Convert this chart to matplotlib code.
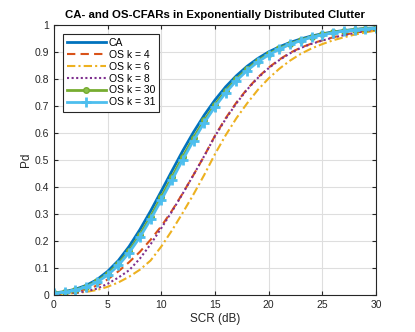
import matplotlib
matplotlib.use("Agg")
import matplotlib.pyplot as plt
import numpy as np

plt.rcParams['font.family'] = ['Liberation Sans', 'DejaVu Sans']

# SCR axis (dB), one point per dB
scr_db = np.arange(0, 31)

# Pd values
pd_ca = [0.008, 0.013, 0.022, 0.036, 0.057, 0.088, 0.128, 0.180, 0.242, 0.311,
         0.385, 0.460, 0.534, 0.603, 0.666, 0.722, 0.771, 0.812, 0.847, 0.876,
         0.900, 0.919, 0.935, 0.948, 0.959, 0.967, 0.974, 0.979, 0.983, 0.987, 0.989]
pd_os4 = [0.006, 0.009, 0.014, 0.022, 0.035, 0.058, 0.088, 0.122, 0.160, 0.205,
          0.255, 0.313, 0.377, 0.445, 0.515, 0.590, 0.655, 0.713, 0.763, 0.806,
          0.842, 0.872, 0.897, 0.916, 0.931, 0.943, 0.954, 0.963, 0.971, 0.977, 0.982]
pd_os6 = [0.003, 0.005, 0.008, 0.012, 0.019, 0.031, 0.047, 0.068, 0.094, 0.128,
          0.180, 0.240, 0.305, 0.373, 0.445, 0.522, 0.592, 0.655, 0.710, 0.760,
          0.802, 0.838, 0.868, 0.893, 0.913, 0.929, 0.943, 0.954, 0.964, 0.972, 0.979]
pd_os8 = [0.004, 0.006, 0.009, 0.014, 0.024, 0.042, 0.065, 0.092, 0.135, 0.188,
          0.248, 0.310, 0.376, 0.445, 0.515, 0.588, 0.652, 0.710, 0.761, 0.804,
          0.840, 0.870, 0.895, 0.915, 0.930, 0.942, 0.953, 0.962, 0.970, 0.977, 0.982]
pd_os30 = [0.007, 0.0115, 0.019, 0.032, 0.051, 0.079, 0.116, 0.164, 0.223, 0.290,
           0.363, 0.4375, 0.512, 0.582, 0.647, 0.705, 0.756, 0.800, 0.8365, 0.867,
           0.893, 0.913, 0.930, 0.944, 0.956, 0.965, 0.972, 0.9775, 0.982, 0.986, 0.988]
pd_os31 = [0.007, 0.011, 0.018, 0.030, 0.048, 0.074, 0.110, 0.157, 0.214, 0.280,
           0.352, 0.426, 0.501, 0.572, 0.638, 0.697, 0.749, 0.794, 0.831, 0.863,
           0.889, 0.910, 0.928, 0.942, 0.954, 0.963, 0.971, 0.977, 0.981, 0.985, 0.988]

fig = plt.figure(figsize=(4.15, 3.32), dpi=100)
ax = fig.add_axes([0.130, 0.111, 0.776, 0.814])

ax.plot(scr_db, pd_ca, color='#0072BD', lw=2, label='CA')
ax.plot(scr_db, pd_os4, color='#D95319', lw=1.5, ls=(0, (4, 2.5)), label='OS k = 4')
ax.plot(scr_db, pd_os6, color='#EDB120', lw=1.5, ls=(0, (4, 1.5, 1, 1.5)), label='OS k = 6')
ax.plot(scr_db, pd_os8, color='#7E2F8E', lw=1.5, ls=(0, (1, 1.2)), label='OS k = 8')
ax.plot(scr_db, pd_os30, color='#77AC30', lw=2, marker='o', ms=4,
        mfc='#8cc04a', mec='#77AC30', label='OS k = 30')
ax.plot(scr_db, pd_os31, color='#4DBEEE', lw=2, marker='+', ms=7, mew=2,
        label='OS k = 31')

ax.set_xlim(0, 30)
ax.set_ylim(0, 1)
ax.set_xticks(np.arange(0, 31, 5))
ax.set_yticks(np.arange(0, 1.01, 0.1))
ax.set_yticklabels(['0', '0.1', '0.2', '0.3', '0.4', '0.5', '0.6', '0.7', '0.8', '0.9', '1'])
ax.grid(True, color='#dedede', lw=0.8)
ax.set_axisbelow(True)
ax.tick_params(direction='in', length=3, labelsize=7.5, colors='#262626', top=True, right=True)
for s in ax.spines.values():
    s.set_color('#262626')
    s.set_linewidth(0.8)

ax.set_xlabel('SCR (dB)', fontsize=8.5, color='#262626', labelpad=2)
ax.set_ylabel('Pd', fontsize=8.5, color='#262626', labelpad=2)
ax.set_title('CA- and OS-CFARs in Exponentially Distributed Clutter',
             fontsize=8.2, fontweight='bold', pad=5)

leg = ax.legend(loc='upper left', bbox_to_anchor=(0.028, 0.967), borderaxespad=0,
                fontsize=7.5, handlelength=3.7, handletextpad=0.3, labelspacing=0.18,
                borderpad=0.4, fancybox=False, framealpha=1, edgecolor='#262626')
leg.get_frame().set_linewidth(0.8)

fig.savefig('out.png', dpi=100)
